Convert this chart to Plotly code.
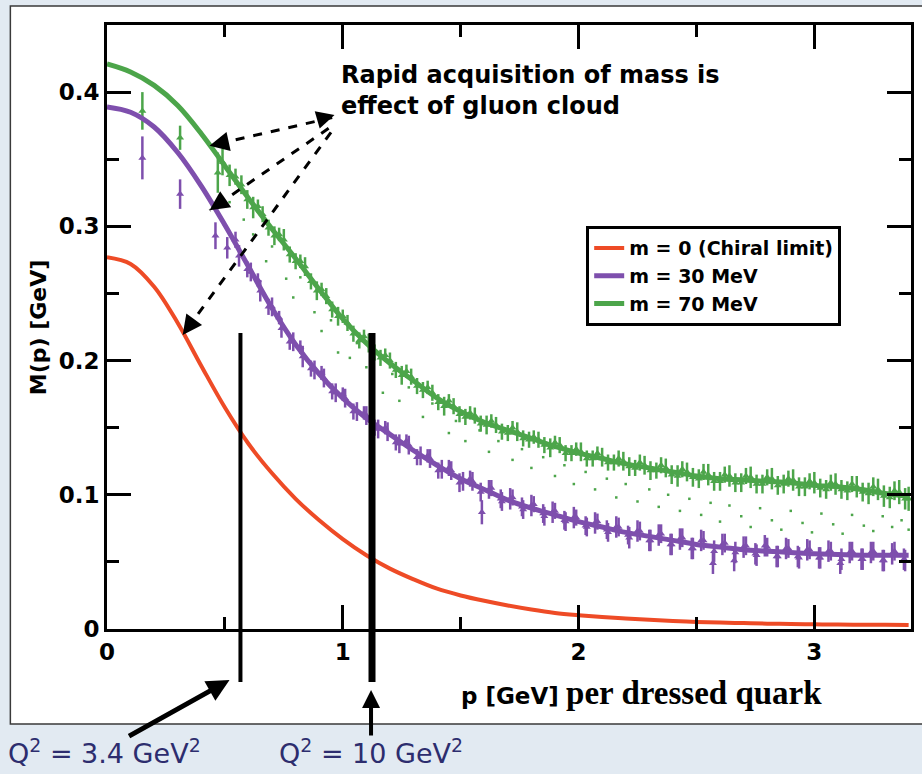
import plotly.graph_objects as go

# ---------------- data ----------------
p_curve = [0.0, 0.1, 0.2, 0.3, 0.4, 0.5, 0.6, 0.7, 0.8, 0.9, 1.0, 1.1, 1.2, 1.3, 1.4, 1.5, 1.6, 1.7,
           1.8, 1.9, 2.0, 2.1, 2.2, 2.3, 2.4, 2.5, 2.6, 2.7, 2.8, 2.9, 3.0, 3.1, 3.2, 3.3, 3.4]
m0_curve = [0.277, 0.272, 0.255, 0.228, 0.196, 0.165, 0.138, 0.116, 0.097, 0.081, 0.067, 0.055, 0.045,
            0.037, 0.030, 0.025, 0.021, 0.0175, 0.0145, 0.012, 0.0103, 0.0089, 0.0078, 0.0068, 0.0060,
            0.0053, 0.0048, 0.0044, 0.0040, 0.0037, 0.0035, 0.0033, 0.0032, 0.0031, 0.0030]
m30_curve = [0.389, 0.385, 0.374, 0.355, 0.330, 0.301, 0.270, 0.239, 0.212, 0.190, 0.172, 0.157, 0.145,
             0.133, 0.122, 0.112, 0.104, 0.096, 0.090, 0.085, 0.080, 0.076, 0.072, 0.069, 0.066, 0.063,
             0.061, 0.059, 0.058, 0.057, 0.056, 0.0555, 0.055, 0.055, 0.055]
m70_curve = [0.421, 0.415, 0.405, 0.390, 0.369, 0.345, 0.321, 0.298, 0.276, 0.253, 0.231, 0.213, 0.198,
             0.185, 0.172, 0.162, 0.154, 0.148, 0.142, 0.136, 0.131, 0.127, 0.123, 0.120, 0.117, 0.114,
             0.112, 0.111, 0.110, 0.109, 0.107, 0.106, 0.104, 0.101, 0.099]

green_p = [0.15, 0.31, 0.47, 0.49, 0.52, 0.57, 0.62, 0.66, 0.71, 0.75, 0.80, 0.84, 0.89, 0.93, 0.98,
           1.02, 1.07, 1.11, 1.16, 1.20, 1.25, 1.29, 1.34, 1.38, 1.43, 1.47, 1.52, 1.56, 1.61, 1.65,
           1.70, 1.74, 1.79, 1.83, 1.88, 1.92, 1.97, 2.01, 2.06, 2.10, 2.15, 2.19, 2.24, 2.28, 2.33,
           2.37, 2.42, 2.46, 2.51, 2.55, 2.60, 2.64, 2.69, 2.73, 2.78, 2.82, 2.87, 2.91, 2.96, 3.00,
           3.05, 3.09, 3.14, 3.18, 3.23, 3.27, 3.32, 3.36, 3.40,
           0.545, 0.595, 0.64, 0.685, 0.73, 0.775, 0.82, 0.865, 0.91, 0.955, 1.00, 1.045, 1.09, 1.135,
           1.18, 1.225, 1.27, 1.315, 1.36, 1.405, 1.45, 1.495, 1.54, 1.585, 1.63, 1.675, 1.72, 1.765,
           1.81, 1.855, 1.90, 1.945, 1.99, 2.035, 2.08, 2.125, 2.17, 2.215, 2.26, 2.305, 2.35, 2.395,
           2.44, 2.485, 2.53, 2.575, 2.62, 2.665, 2.71, 2.755, 2.80, 2.845, 2.89, 2.935, 2.98, 3.025,
           3.07, 3.115, 3.16, 3.205, 3.25, 3.295, 3.34, 3.385]
green_m = [0.386, 0.366, 0.340, 0.348, 0.338, 0.331, 0.314, 0.309, 0.293, 0.290, 0.274, 0.270, 0.252,
           0.248, 0.233, 0.228, 0.215, 0.213, 0.202, 0.200, 0.189, 0.188, 0.178, 0.176, 0.166, 0.166,
           0.158, 0.159, 0.152, 0.152, 0.146, 0.147, 0.141, 0.141, 0.135, 0.137, 0.131, 0.132, 0.127,
           0.128, 0.124, 0.125, 0.120, 0.122, 0.118, 0.120, 0.114, 0.117, 0.112, 0.115, 0.110, 0.114,
           0.109, 0.113, 0.108, 0.112, 0.108, 0.111, 0.106, 0.109, 0.104, 0.108, 0.103, 0.106, 0.101,
           0.104, 0.098, 0.102, 0.097,
           0.337, 0.320, 0.315, 0.299, 0.294, 0.279, 0.274, 0.259, 0.253, 0.238, 0.233, 0.220, 0.218,
           0.206, 0.204, 0.193, 0.192, 0.181, 0.180, 0.169, 0.170, 0.160, 0.161, 0.153, 0.155, 0.147,
           0.150, 0.142, 0.143, 0.137, 0.139, 0.131, 0.134, 0.127, 0.131, 0.124, 0.127, 0.121, 0.124,
           0.118, 0.122, 0.115, 0.119, 0.113, 0.117, 0.110, 0.115, 0.109, 0.114, 0.108, 0.113, 0.107,
           0.112, 0.106, 0.110, 0.105, 0.109, 0.104, 0.108, 0.102, 0.106, 0.099, 0.103, 0.097]
green_err = [0.014, 0.009, 0.015, 0.010, 0.008, 0.007, 0.008, 0.006, 0.007, 0.008, 0.006, 0.007, 0.007,
             0.006, 0.007, 0.006, 0.006, 0.007, 0.006, 0.006, 0.007, 0.006, 0.006, 0.006, 0.007, 0.006,
             0.006, 0.006, 0.007, 0.006, 0.006, 0.007, 0.006, 0.006, 0.007, 0.006, 0.006, 0.007, 0.006,
             0.007, 0.006, 0.007, 0.006, 0.007, 0.006, 0.007, 0.008, 0.007, 0.007, 0.008, 0.007, 0.008,
             0.007, 0.008, 0.007, 0.008, 0.007, 0.008, 0.007, 0.008, 0.007, 0.008, 0.007, 0.008, 0.008,
             0.008, 0.008, 0.009, 0.009,
             0.006, 0.007, 0.005, 0.006, 0.005, 0.006, 0.005, 0.006, 0.005, 0.006, 0.005, 0.006, 0.005,
             0.006, 0.005, 0.006, 0.005, 0.006, 0.005, 0.006, 0.005, 0.006, 0.005, 0.006, 0.005, 0.006,
             0.005, 0.006, 0.005, 0.006, 0.005, 0.006, 0.005, 0.006, 0.005, 0.006, 0.006, 0.007, 0.006,
             0.007, 0.006, 0.007, 0.006, 0.007, 0.006, 0.007, 0.006, 0.007, 0.006, 0.007, 0.006, 0.007,
             0.006, 0.007, 0.006, 0.007, 0.006, 0.007, 0.006, 0.007, 0.007, 0.008, 0.007, 0.008]

purple_p = [0.15, 0.31, 0.46, 0.51, 0.56, 0.61, 0.65, 0.70, 0.74, 0.79, 0.83, 0.88, 0.92, 0.97, 1.01,
            1.06, 1.10, 1.15, 1.19, 1.24, 1.28, 1.33, 1.37, 1.42, 1.46, 1.51, 1.55, 1.59, 1.62, 1.67,
            1.71, 1.76, 1.80, 1.85, 1.89, 1.94, 1.98, 2.03, 2.07, 2.12, 2.16, 2.21, 2.25, 2.30, 2.34,
            2.39, 2.43, 2.48, 2.52, 2.57, 2.61, 2.66, 2.70, 2.75, 2.79, 2.84, 2.88, 2.93, 2.97, 3.02,
            3.06, 3.11, 3.15, 3.20, 3.24, 3.29, 3.33, 3.38,
            0.545, 0.595, 0.64, 0.685, 0.73, 0.775, 0.82, 0.865, 0.91, 0.955, 1.00, 1.045, 1.09, 1.135,
            1.18, 1.225, 1.27, 1.315, 1.36, 1.405, 1.45, 1.495, 1.54, 1.585, 1.63, 1.675, 1.72, 1.765,
            1.81, 1.855, 1.90, 1.945, 1.99, 2.035, 2.08, 2.125, 2.17, 2.215, 2.26, 2.305, 2.35, 2.395,
            2.44, 2.485, 2.53, 2.575, 2.62, 2.665, 2.71, 2.755, 2.80, 2.845, 2.89, 2.935, 2.98, 3.025,
            3.07, 3.115, 3.16, 3.205, 3.25, 3.295, 3.34, 3.385]
purple_m = [0.351, 0.324, 0.293, 0.284, 0.278, 0.266, 0.252, 0.240, 0.224, 0.214, 0.203, 0.193, 0.187,
            0.176, 0.172, 0.162, 0.159, 0.149, 0.147, 0.138, 0.137, 0.129, 0.127, 0.119, 0.118, 0.110,
            0.110, 0.087, 0.104, 0.097, 0.097, 0.091, 0.092, 0.086, 0.087, 0.081, 0.083, 0.077, 0.079,
            0.074, 0.076, 0.070, 0.073, 0.066, 0.070, 0.063, 0.067, 0.060, 0.066, 0.049, 0.063, 0.051,
            0.061, 0.056, 0.062, 0.054, 0.060, 0.054, 0.059, 0.053, 0.058, 0.049, 0.057, 0.052, 0.057,
            0.051, 0.056, 0.052,
            0.290, 0.268, 0.260, 0.240, 0.232, 0.214, 0.210, 0.194, 0.191, 0.177, 0.175, 0.162, 0.161,
            0.150, 0.150, 0.139, 0.140, 0.128, 0.129, 0.118, 0.120, 0.109, 0.112, 0.102, 0.105, 0.095,
            0.098, 0.089, 0.093, 0.084, 0.088, 0.080, 0.083, 0.076, 0.080, 0.072, 0.076, 0.068, 0.073,
            0.066, 0.071, 0.063, 0.068, 0.060, 0.066, 0.058, 0.064, 0.057, 0.062, 0.055, 0.061, 0.054,
            0.060, 0.053, 0.059, 0.053, 0.058, 0.052, 0.058, 0.052, 0.058, 0.051, 0.058, 0.051]
purple_err = [0.016, 0.011, 0.010, 0.008, 0.008, 0.007, 0.008, 0.007, 0.007, 0.007, 0.008, 0.007, 0.007,
              0.007, 0.007, 0.007, 0.007, 0.007, 0.007, 0.007, 0.007, 0.007, 0.007, 0.007, 0.007, 0.007,
              0.007, 0.009, 0.007, 0.007, 0.008, 0.007, 0.008, 0.007, 0.008, 0.007, 0.008, 0.007, 0.008,
              0.007, 0.008, 0.007, 0.008, 0.008, 0.008, 0.008, 0.008, 0.008, 0.008, 0.008, 0.008, 0.008,
              0.008, 0.008, 0.008, 0.008, 0.008, 0.008, 0.008, 0.008, 0.008, 0.008, 0.008, 0.008, 0.008,
              0.008, 0.008, 0.008,
              0.006, 0.006, 0.005, 0.006, 0.005, 0.006, 0.005, 0.006, 0.005, 0.006, 0.005, 0.006, 0.005,
              0.006, 0.005, 0.006, 0.005, 0.006, 0.005, 0.006, 0.006, 0.007, 0.006, 0.007, 0.006, 0.007,
              0.006, 0.007, 0.006, 0.007, 0.006, 0.007, 0.006, 0.007, 0.006, 0.007, 0.007, 0.008, 0.007,
              0.008, 0.007, 0.008, 0.007, 0.008, 0.007, 0.008, 0.007, 0.008, 0.007, 0.008, 0.007, 0.008,
              0.007, 0.008, 0.007, 0.008, 0.007, 0.008, 0.007, 0.008, 0.007, 0.008, 0.007, 0.008]

dots_p = [0.52, 0.58, 0.62, 0.675, 0.70, 0.76, 0.79, 0.82, 0.88, 0.91, 0.95, 0.98, 1.03, 1.06, 1.10,
          1.13, 1.17, 1.21, 1.24, 1.28, 1.34, 1.38, 1.45, 1.48, 1.52, 1.58, 1.62, 1.66, 1.72, 1.76,
          1.80, 1.85, 1.90, 1.94, 1.98, 2.03, 2.07, 2.12, 2.16, 2.20, 2.25, 2.30, 2.34, 2.38, 2.43,
          2.47, 2.52, 2.56, 2.60, 2.64, 2.69, 2.73, 2.77, 2.82, 2.86, 2.90, 2.95, 2.99, 3.03, 3.08,
          3.12, 3.16, 3.21, 3.25, 3.29, 3.33, 3.37, 3.40]
dots_m = [0.318, 0.305, 0.294, 0.274, 0.285, 0.261, 0.247, 0.262, 0.236, 0.222, 0.230, 0.206, 0.202,
          0.213, 0.195, 0.186, 0.176, 0.190, 0.170, 0.180, 0.158, 0.168, 0.146, 0.155, 0.140, 0.148,
          0.132, 0.140, 0.126, 0.134, 0.120, 0.128, 0.114, 0.122, 0.108, 0.117, 0.104, 0.112, 0.098,
          0.108, 0.095, 0.104, 0.091, 0.100, 0.088, 0.097, 0.085, 0.094, 0.080, 0.092, 0.084, 0.076,
          0.090, 0.081, 0.074, 0.088, 0.079, 0.072, 0.086, 0.078, 0.071, 0.085, 0.077, 0.073, 0.084,
          0.076, 0.081, 0.074]

legend_names = ["m = 0 (Chiral limit)", "m = 30 MeV", "m = 70 MeV"]
x_ticks = [0, 1, 2, 3]
y_ticks = [0, 0.1, 0.2, 0.3, 0.4]
y_ticktext = ["0", "0.1", "0.2", "0.3", "0.4"]
q2_lines_p = [0.566, 1.124]
q2_labels = ["Q<sup>2</sup> = 3.4 GeV<sup>2</sup>", "Q<sup>2</sup> = 10 GeV<sup>2</sup>"]
arrow_start = [(0.955, 0.381), (0.94, 0.373), (0.95, 0.370)]
arrow_tip = [(0.435, 0.360), (0.435, 0.312), (0.321, 0.219)]

RED = "#EE4B26"
PURPLE = "#7E4FAD"
GREEN = "#4CA54A"
SANS = "DejaVu Sans"

fig = go.Figure()

fig.add_trace(go.Scatter(x=dots_p, y=dots_m, mode="markers", showlegend=False, hoverinfo="skip",
                         marker=dict(color=GREEN, size=2.5, symbol="square")))
fig.add_trace(go.Scatter(x=purple_p, y=purple_m, mode="markers", showlegend=False,
                         marker=dict(color=PURPLE, size=7, symbol="triangle-up"),
                         error_y=dict(type="data", array=purple_err, color=PURPLE, thickness=2.5, width=0)))
fig.add_trace(go.Scatter(x=green_p, y=green_m, mode="markers", showlegend=False,
                         marker=dict(color=GREEN, size=7, symbol="triangle-up"),
                         error_y=dict(type="data", array=green_err, color=GREEN, thickness=2.5, width=0)))

for yv, col, w, name in [(m0_curve, RED, 4, legend_names[0]),
                          (m30_curve, PURPLE, 5, legend_names[1]),
                          (m70_curve, GREEN, 5, legend_names[2])]:
    fig.add_trace(go.Scatter(x=p_curve, y=yv, mode="lines", name=name,
                             line=dict(color=col, width=w, shape="spline", smoothing=1.0)))

shapes = []
shapes.append(dict(type="rect", xref="paper", yref="paper", x0=-0.1202, x1=1.03, y0=-0.1573, y1=1.0315,
                   fillcolor="white", line=dict(color="#3a3a3a", width=1.5), layer="below"))
for xv, w in zip(q2_lines_p, [4, 7]):
    shapes.append(dict(type="line", xref="x", yref="paper", x0=xv, x1=xv, y0=0.49, y1=-0.0877,
                       line=dict(color="black", width=w)))
for (sx, sy), (tx, ty) in zip(arrow_start, arrow_tip):
    shapes.append(dict(type="line", xref="x", yref="y", x0=sx, y0=sy, x1=tx, y1=ty,
                       line=dict(color="black", width=3, dash="dash")))

annotations = []
for (tx, ty), (ax, ay) in zip(arrow_tip, [(19.5, -4.3), (16.5, -11.3), (11.8, -16.1)]):
    annotations.append(dict(x=tx, y=ty, xref="x", yref="y", text="", showarrow=True, ax=ax, ay=ay,
                            arrowhead=2, arrowsize=1.3, arrowwidth=3, arrowcolor="black"))
annotations.append(dict(x=0.965, y=0.383, xref="x", yref="y", text="", showarrow=True, ax=-14, ay=4,
                        arrowhead=2, arrowsize=1.2, arrowwidth=3, arrowcolor="black"))
annotations.append(dict(x=0.2887, y=0.892, xref="paper", yref="paper", xanchor="left", yanchor="middle",
                        align="left", showarrow=False,
                        text="<b>Rapid acquisition of mass is<br>effect of gluon cloud</b>",
                        font=dict(family=SANS, size=24, color="black")))
annotations.append(dict(x=-0.0855, y=0.5, xref="paper", yref="paper", xanchor="center", yanchor="middle",
                        textangle=-90, showarrow=False,
                        text="<b>M(p) [GeV]</b>", font=dict(family=SANS, size=22, color="black")))
annotations.append(dict(x=0.6654, y=-0.106, xref="paper", yref="paper", xanchor="center", yanchor="middle",
                        showarrow=False,
                        text='<b>p [GeV]</b> <span style="font-family:Liberation Serif;font-size:33px">'
                             '<b>per dressed quark</b></span>',
                        font=dict(family=SANS, size=23, color="black")))
annotations.append(dict(x=0.1524, y=-0.0844, xref="paper", yref="paper", text="", showarrow=True,
                        ax=-102, ay=57, arrowhead=2, arrowsize=0.9, arrowwidth=5, arrowcolor="black"))
annotations.append(dict(x=0.3284, y=-0.101, xref="paper", yref="paper", text="", showarrow=True,
                        ax=0, ay=47, arrowhead=2, arrowsize=0.9, arrowwidth=4, arrowcolor="black"))
for xv, txt in zip([-0.0025, 0.328], q2_labels):
    annotations.append(dict(x=xv, y=-0.2036, xref="paper", yref="paper", xanchor="center",
                            yanchor="middle", showarrow=False, text=txt,
                            font=dict(family=SANS, size=27, color="#2d2d6e")))

axis_common = dict(showgrid=False, zeroline=False, ticks="inside", ticklen=24, tickwidth=3,
                   linewidth=3, linecolor="black", mirror="ticks", tickcolor="black",
                   tickfont=dict(family=SANS, size=23, color="black", weight="bold"))

fig.update_layout(
    width=922, height=774,
    margin=dict(l=107, r=8, t=25, b=145),
    paper_bgcolor="#e2eaf2", plot_bgcolor="white",
    xaxis=dict(range=[0, 3.41], tickvals=x_ticks,
               minor=dict(ticks="inside", ticklen=12, tickwidth=3, dtick=0.5, tickcolor="black", showgrid=False),
               **axis_common),
    yaxis=dict(range=[0, 0.45], tickvals=y_ticks, ticktext=y_ticktext,
               minor=dict(ticks="inside", ticklen=12, tickwidth=3, dtick=0.05, tickcolor="black", showgrid=False),
               **axis_common),
    legend=dict(x=0.596, y=0.667, xanchor="left", yanchor="top", bgcolor="white",
                bordercolor="black", borderwidth=3,
                font=dict(family=SANS, size=19, color="black", weight="bold")),
    shapes=shapes, annotations=annotations,
)

fig.write_html("out.html")
